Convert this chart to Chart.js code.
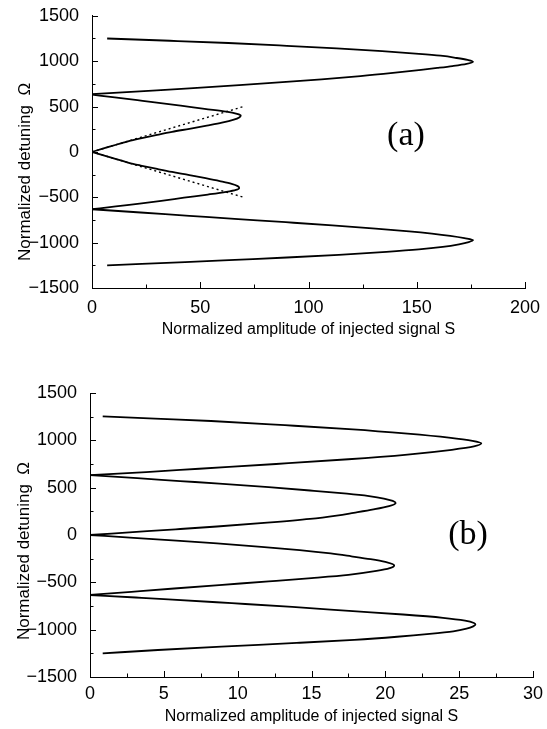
<!DOCTYPE html>
<html><head><meta charset="utf-8">
<script src="https://cdn.jsdelivr.net/npm/chart.js@4/dist/chart.umd.min.js"></script>
<style>
body{margin:0;background:#fff;width:547px;height:729px;overflow:hidden;position:relative}
canvas{position:absolute;left:0}
#ca{top:0}
#cb{top:345px}
</style></head><body>
<canvas id="ca" width="547" height="345"></canvas>
<canvas id="cb" width="547" height="384"></canvas>
<script>
// ---------- data: points are [S, Omega] ----------
// Panel (a)
const aLobeTop = [[7,1250],[36,1225],[63,1200],[90,1169],[113,1140],[134,1110],[151,1081],[161,1060],[168.5,1035],[173.5,1013],[176,993],[173,970],[166.5,946],[159.5,925],[152,904],[139,870],[124,835],[106,800],[88,768],[68,735],[45,700],[24,670],[0,636]];
const aLobeUpper = [[0,632],[10.5,600],[21,570],[29,547],[41,510],[52,475],[62,445],[67,420],[68.7,402],[68,380],[65.5,355],[60,322],[53,290],[45,255],[37,221],[29.5,185],[22.5,150],[17,120],[13.3,94],[8.5,60],[4.2,30],[0,0]];
const aLobeLower = [[0,0],[4.2,-30],[8.5,-60],[13.3,-94],[17,-120],[22.5,-150],[29.5,-185],[37,-221],[45,-255],[52.5,-290],[59,-322],[64.5,-352],[67.3,-377],[68,-397],[66.5,-418],[62,-440],[53.5,-470],[42.5,-505],[32,-540],[22,-570],[11,-600],[0,-632]];
const aLobeBottom = [[0,-632],[22.5,-668],[45,-704],[67.5,-740],[89.5,-775],[111,-810],[131,-845],[146.5,-875],[157,-900],[165.5,-925],[172,-950],[176,-972],[174,-994],[169.5,-1018],[162,-1046],[151,-1074],[136,-1101],[114,-1134],[90,-1164],[66,-1190],[43,-1215],[23,-1235],[7,-1250]];
const aTangentUp = [[0,0],[70.7,505]];
const aTangentDown = [[0,0],[70.7,-505]];
// Panel (b)
const bLobeTop = [[0.86,1254],[4.4,1230],[8.2,1204],[13.2,1160],[17.8,1116],[21.5,1070],[24.3,1028],[25.9,995],[26.5,968],[26,935],[24.5,900],[21.5,850],[17.5,800],[12.6,750],[7.4,700],[3.8,665],[0,632]];
const bLobeUpper = [[0,632],[3.2,600],[6.1,570],[8.75,543],[12.1,505],[14.9,470],[17.4,436],[18.9,410],[19.9,385],[20.5,360],[20.7,339],[20.25,305],[19.2,270],[17.85,234],[16.7,205],[14.9,170],[12,130],[8.6,90],[5.8,60],[2.9,30],[0,0]];
const bLobeLower = [[0,0],[2.95,-30],[5.85,-60],[8.6,-89],[11.6,-125],[14.2,-160],[16.3,-195],[17.7,-225],[19,-255],[20,-285],[20.6,-321],[20.3,-350],[19.4,-380],[17.5,-421],[15,-455],[12.1,-490],[8.75,-529],[5.7,-565],[2.8,-600],[0,-634]];
const bLobeBottom = [[0,-634],[3.1,-660],[5.3,-679],[9.6,-720],[13.7,-760],[17.8,-804],[21.2,-840],[23.9,-875],[25.4,-905],[26,-930],[26.1,-946],[25.95,-965],[25.5,-990],[24.6,-1018],[23,-1045],[20.8,-1075],[17.9,-1107],[14,-1140],[8.9,-1179],[4.6,-1215],[0.86,-1250]];
// Ticks and texts
const aXTicks = [0,50,100,150,200];
const bXTicks = [0,5,10,15,20,25,30];
const yTicks = [-1500,-1000,-500,0,500,1000,1500];
const xTitle = 'Normalized amplitude of injected signal S';
const yTitle = 'Normalized detuning  \u03A9';
const aLabel = '(a)', bLabel = '(b)';

const SANS = '"Liberation Sans", Arial, Helvetica, sans-serif';
const SERIF = '"Liberation Serif", "Times New Roman", serif';
const toXY = arr => arr.map(p => ({x: p[0], y: p[1]}));

const decor = {
  id: 'decor',
  afterDraw(chart, args, o) {
    const ctx = chart.ctx, ca = chart.chartArea, xs = chart.scales.x, ys = chart.scales.y;
    ctx.save();
    ctx.strokeStyle = '#000'; ctx.lineWidth = 1;
    const inward = (vals, isX) => {
      for (let i = 0; i < vals.length; i++) {
        const list = [[vals[i], 6]];
        if (i < vals.length - 1) list.push([(vals[i] + vals[i+1]) / 2, 3.5]);
        list.forEach(([v, len]) => {
          ctx.beginPath();
          if (isX) {
            const px = Math.round(xs.getPixelForValue(v)) + 0.5;
            ctx.moveTo(px, ca.bottom); ctx.lineTo(px, ca.bottom - len);
          } else {
            const py = Math.round(ys.getPixelForValue(v)) + 0.5;
            ctx.moveTo(ca.left, py); ctx.lineTo(ca.left + len, py);
          }
          ctx.stroke();
        });
      }
    };
    inward(o.xTicks, true);
    inward(yTicks, false);
    // y axis title
    ctx.fillStyle = '#000';
    ctx.font = '17px ' + SANS;
    ctx.textAlign = 'center'; ctx.textBaseline = 'middle';
    ctx.translate(o.yTitleX, (ca.top + ca.bottom) / 2 + o.yTitleOff);
    ctx.rotate(-Math.PI / 2);
    ctx.fillText(yTitle, 0, 0);
    ctx.restore();
    // panel label
    ctx.save();
    ctx.fillStyle = '#000';
    ctx.font = '34px ' + SERIF;
    ctx.textAlign = 'center'; ctx.textBaseline = 'middle';
    ctx.fillText(o.label, xs.getPixelForValue(o.labelAt[0]), ys.getPixelForValue(o.labelAt[1]));
    ctx.restore();
  }
};

function panel(id, lobes, dotted, xTicks, L) {
  const datasets = lobes.map(l => ({data: toXY(l), indexAxis: 'y', cubicInterpolationMode: 'monotone',
    borderColor: '#000', borderWidth: 1.8, pointRadius: 0, fill: false}));
  dotted.forEach(d => datasets.push({data: toXY(d), indexAxis: 'y', borderColor: '#000', borderWidth: 1.4,
    borderDash: [2, 3], pointRadius: 0, tension: 0, fill: false}));
  return new Chart(document.getElementById(id), {
    type: 'line',
    data: {datasets},
    options: {
      responsive: false, animation: false, devicePixelRatio: 1,
      layout: {padding: {top: L.top, right: L.right, left: 0, bottom: 0}},
      plugins: {
        legend: {display: false}, tooltip: {enabled: false},
        decor: {xTicks, label: L.label, labelAt: L.labelAt, yTitleX: L.yTitleX, yTitleOff: L.yTitleOff}
      },
      scales: {
        x: {
          type: 'linear', min: xTicks[0], max: xTicks[xTicks.length - 1],
          afterBuildTicks: s => { s.ticks = xTicks.map(v => ({value: v})); },
          afterFit: s => { s.height = L.xh; },
          grid: {display: false},
          border: {display: true, color: '#000', width: 1},
          ticks: {color: '#000', font: {family: SANS, size: 18}, padding: L.xpad, maxRotation: 0, autoSkip: false},
          title: {display: true, text: xTitle, color: '#000', font: {family: SANS, size: 16}, padding: {top: 0, bottom: L.tpad}}
        },
        y: {
          type: 'linear', min: -1500, max: 1500,
          afterBuildTicks: s => { s.ticks = yTicks.map(v => ({value: v})); },
          afterFit: s => { s.width = L.yw; },
          grid: {display: false},
          border: {display: true, color: '#000', width: 1},
          ticks: {color: '#000', font: {family: SANS, size: 18}, padding: 5, autoSkip: false,
            callback: v => (v < 0 ? '\u2212' + Math.abs(v) : String(v))}
        }
      }
    },
    plugins: [decor]
  });
}

panel('ca', [aLobeTop, aLobeUpper, aLobeLower, aLobeBottom], [aTangentUp, aTangentDown], aXTicks,
  {top: 12, right: 22, yw: 92, xh: 57, xpad: 1, tpad: 6, label: aLabel, labelAt: [145, 175], yTitleX: 25, yTitleOff: 20});
panel('cb', [bLobeTop, bLobeUpper, bLobeLower, bLobeBottom], [], bXTicks,
  {top: 48, right: 14, yw: 90, xh: 52, xpad: -2, tpad: 3, label: bLabel, labelAt: [25.6, 0], yTitleX: 24, yTitleOff: 16});
</script>
</body></html>
